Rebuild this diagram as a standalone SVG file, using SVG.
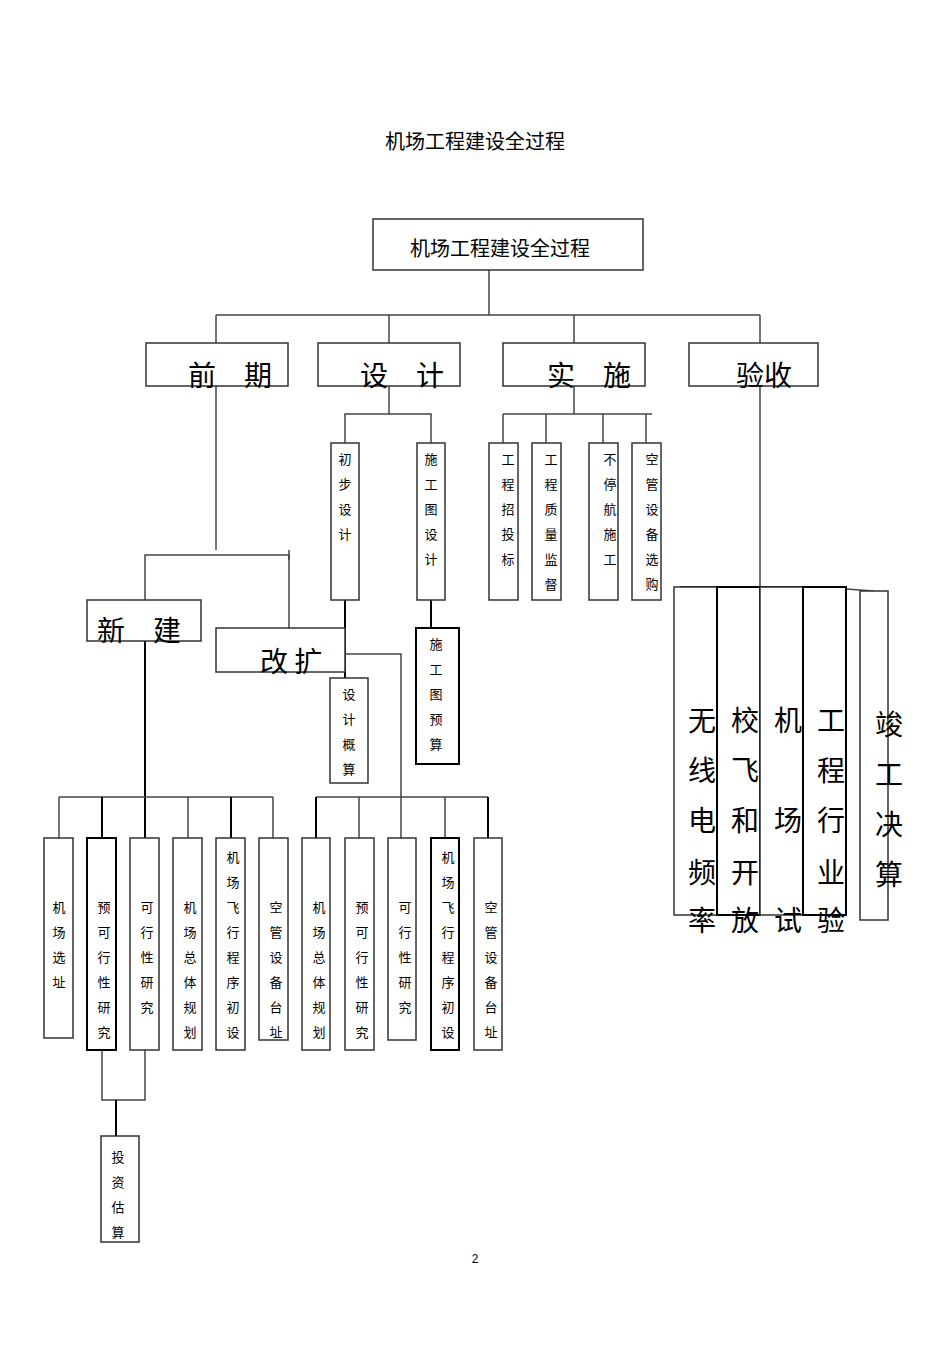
<svg xmlns="http://www.w3.org/2000/svg" width="950" height="1345" viewBox="0 0 950 1345">
<style>
text{font-family:"Noto Sans CJK SC","Liberation Sans",sans-serif;fill:#000}
.t{font-size:13px;text-anchor:middle}
.b{font-size:28px}
rect{fill:#fff;stroke:#333;stroke-width:1.5}
.k{stroke:#000;stroke-width:2}
line,polyline{stroke:#444;stroke-width:1.5;fill:none}
.bl{stroke:#000;stroke-width:2}
</style>
<rect x="0" y="0" width="950" height="1345" style="stroke:none"/>
<text x="475" y="149" style="font-size:20px;text-anchor:middle">机场工程建设全过程</text>
<g id="connectors">
<line x1="489" y1="270" x2="489" y2="315"/>
<line x1="216" y1="315" x2="760" y2="315"/>
<line x1="216" y1="315" x2="216" y2="343"/><line x1="389" y1="315" x2="389" y2="343"/><line x1="574" y1="315" x2="574" y2="343"/><line x1="760" y1="315" x2="760" y2="343"/>
<line x1="216" y1="386" x2="216" y2="550"/>
<polyline points="145,600 145,555 289,555 289,628"/>
<line x1="289" y1="550" x2="289" y2="560"/>
<line x1="389" y1="386" x2="389" y2="414"/>
<polyline points="345,443 345,414 431,414 431,443"/>
<line class="bl" x1="431" y1="600" x2="431" y2="628"/>
<line class="bl" x1="345" y1="600" x2="345" y2="678"/>
<polyline points="345,654 401,654 401,838"/>
<line x1="574" y1="386" x2="574" y2="414"/>
<line x1="503" y1="414" x2="652" y2="414"/>
<line x1="503" y1="414" x2="503" y2="443"/><line x1="546" y1="414" x2="546" y2="443"/><line x1="603" y1="414" x2="603" y2="443"/><line x1="646" y1="414" x2="646" y2="443"/>
<line x1="760" y1="386" x2="760" y2="587"/>
<line class="bl" x1="680" y1="587" x2="818" y2="587"/>
<line x1="818" y1="587" x2="874" y2="591"/>
<line class="bl" x1="145" y1="641" x2="145" y2="838"/>
<line x1="59" y1="797" x2="273" y2="797"/>
<line x1="59" y1="797" x2="59" y2="838"/><line class="bl" x1="102" y1="797" x2="102" y2="838"/><line x1="188" y1="797" x2="188" y2="838"/><line class="bl" x1="231" y1="797" x2="231" y2="838"/><line x1="273" y1="797" x2="273" y2="838"/>
<line x1="316" y1="797" x2="488" y2="797"/>
<line class="bl" x1="316" y1="797" x2="316" y2="838"/><line x1="359" y1="797" x2="359" y2="838"/><line x1="445" y1="797" x2="445" y2="838"/><line class="bl" x1="488" y1="797" x2="488" y2="838"/>
<polyline points="102,1050 102,1100 145,1100 145,1050"/>
<line class="bl" x1="116" y1="1100" x2="116" y2="1136"/>
</g>
<g id="root"><rect x="373" y="219" width="270" height="51"/><text x="500" y="256" style="font-size:20px;text-anchor:middle">机场工程建设全过程</text></g>
<g id="qianqi"><rect x="146" y="343" width="142" height="43"/><text class="b" x="188" y="386">前　期</text></g>
<g id="sheji"><rect x="318" y="343" width="142" height="43"/><text class="b" x="360" y="386">设　计</text></g>
<g id="shishi"><rect x="503" y="343" width="142" height="43"/><text class="b" x="547" y="386">实　施</text></g>
<g id="yanshou"><rect x="689" y="343" width="129" height="43"/><text class="b" x="736" y="386">验收</text></g>

<g id="chubu"><rect x="331" y="443" width="28" height="157"/><text class="t" x="345" y="464">初</text><text class="t" x="345" y="489">步</text><text class="t" x="345" y="514">设</text><text class="t" x="345" y="539">计</text></g>
<g id="sgtsj"><rect x="417" y="443" width="28" height="157"/><text class="t" x="431" y="464">施</text><text class="t" x="431" y="489">工</text><text class="t" x="431" y="514">图</text><text class="t" x="431" y="539">设</text><text class="t" x="431" y="564">计</text></g>
<g id="sgtys"><rect class="k" x="416" y="628" width="43" height="136"/><text class="t" x="436" y="649">施</text><text class="t" x="436" y="674">工</text><text class="t" x="436" y="699">图</text><text class="t" x="436" y="724">预</text><text class="t" x="436" y="749">算</text></g>
<g id="sjgs"><rect x="330" y="678" width="38" height="105"/><text class="t" x="349" y="699">设</text><text class="t" x="349" y="724">计</text><text class="t" x="349" y="749">概</text><text class="t" x="349" y="774">算</text></g>

<g id="s1"><rect x="489" y="443" width="29" height="157"/><text class="t" x="508" y="464">工</text><text class="t" x="508" y="489">程</text><text class="t" x="508" y="514">招</text><text class="t" x="508" y="539">投</text><text class="t" x="508" y="564">标</text></g>
<g id="s2"><rect x="532" y="443" width="29" height="157"/><text class="t" x="551" y="464">工</text><text class="t" x="551" y="489">程</text><text class="t" x="551" y="514">质</text><text class="t" x="551" y="539">量</text><text class="t" x="551" y="564">监</text><text class="t" x="551" y="589">督</text></g>
<g id="s3"><rect x="589" y="443" width="29" height="157"/><text class="t" x="610" y="464">不</text><text class="t" x="610" y="489">停</text><text class="t" x="610" y="514">航</text><text class="t" x="610" y="539">施</text><text class="t" x="610" y="564">工</text></g>
<g id="s4"><rect x="632" y="443" width="29" height="157"/><text class="t" x="652" y="464">空</text><text class="t" x="652" y="489">管</text><text class="t" x="652" y="514">设</text><text class="t" x="652" y="539">备</text><text class="t" x="652" y="564">选</text><text class="t" x="652" y="589">购</text></g>

<g id="v1"><rect x="674" y="587" width="43" height="328"/></g>
<g id="v2"><rect class="k" x="717" y="587" width="43" height="328"/></g>
<g id="v3"><rect x="760" y="587" width="43" height="328"/></g>
<g id="v4"><rect class="k" x="803" y="587" width="43" height="328"/></g>
<g id="v5"><rect x="860" y="591" width="28" height="329"/></g>
<g id="vtext" class="b">
<text x="688" y="731">无</text><text x="688" y="781">线</text><text x="688" y="831">电</text><text x="688" y="883">频</text><text x="688" y="931">率</text>
<text x="731" y="731">校</text><text x="731" y="781">飞</text><text x="731" y="831">和</text><text x="731" y="883">开</text><text x="731" y="931">放</text>
<text x="774" y="731">机</text><text x="774" y="831">场</text><text x="774" y="931">试</text>
<text x="817" y="731">工</text><text x="817" y="781">程</text><text x="817" y="831">行</text><text x="817" y="883">业</text><text x="817" y="931">验</text>
<text x="875" y="735">竣</text><text x="875" y="785">工</text><text x="875" y="835">决</text><text x="875" y="885">算</text>
</g>

<g id="xinjian"><rect x="87" y="600" width="114" height="41"/><text class="b" x="97" y="641">新　建</text></g>
<g id="gaikuo"><rect x="216" y="628" width="129" height="44"/><text class="b" x="260" y="672">改 扩</text></g>

<g id="a1"><rect x="44" y="838" width="29" height="200"/><text class="t" x="59" y="912">机</text><text class="t" x="59" y="937">场</text><text class="t" x="59" y="962">选</text><text class="t" x="59" y="987">址</text></g>
<g id="a2"><rect class="k" x="87" y="838" width="29" height="212"/><text class="t" x="104" y="912">预</text><text class="t" x="104" y="937">可</text><text class="t" x="104" y="962">行</text><text class="t" x="104" y="987">性</text><text class="t" x="104" y="1012">研</text><text class="t" x="104" y="1037">究</text></g>
<g id="a3"><rect x="130" y="838" width="29" height="212"/><text class="t" x="147" y="912">可</text><text class="t" x="147" y="937">行</text><text class="t" x="147" y="962">性</text><text class="t" x="147" y="987">研</text><text class="t" x="147" y="1012">究</text></g>
<g id="a4"><rect x="173" y="838" width="29" height="212"/><text class="t" x="190" y="912">机</text><text class="t" x="190" y="937">场</text><text class="t" x="190" y="962">总</text><text class="t" x="190" y="987">体</text><text class="t" x="190" y="1012">规</text><text class="t" x="190" y="1037">划</text></g>
<g id="a5"><rect x="216" y="838" width="29" height="212"/><text class="t" x="233" y="862">机</text><text class="t" x="233" y="887">场</text><text class="t" x="233" y="912">飞</text><text class="t" x="233" y="937">行</text><text class="t" x="233" y="962">程</text><text class="t" x="233" y="987">序</text><text class="t" x="233" y="1012">初</text><text class="t" x="233" y="1037">设</text></g>
<g id="a6"><rect x="259" y="838" width="29" height="202"/><text class="t" x="276" y="912">空</text><text class="t" x="276" y="937">管</text><text class="t" x="276" y="962">设</text><text class="t" x="276" y="987">备</text><text class="t" x="276" y="1012">台</text><text class="t" x="276" y="1037">址</text></g>
<g id="tzgs"><rect x="101" y="1136" width="38" height="106"/><text class="t" x="118" y="1162">投</text><text class="t" x="118" y="1187">资</text><text class="t" x="118" y="1212">估</text><text class="t" x="118" y="1237">算</text></g>

<g id="b1"><rect x="302" y="838" width="28" height="212"/><text class="t" x="319" y="912">机</text><text class="t" x="319" y="937">场</text><text class="t" x="319" y="962">总</text><text class="t" x="319" y="987">体</text><text class="t" x="319" y="1012">规</text><text class="t" x="319" y="1037">划</text></g>
<g id="b2"><rect x="345" y="838" width="29" height="212"/><text class="t" x="362" y="912">预</text><text class="t" x="362" y="937">可</text><text class="t" x="362" y="962">行</text><text class="t" x="362" y="987">性</text><text class="t" x="362" y="1012">研</text><text class="t" x="362" y="1037">究</text></g>
<g id="b3"><rect x="388" y="838" width="28" height="202"/><text class="t" x="405" y="912">可</text><text class="t" x="405" y="937">行</text><text class="t" x="405" y="962">性</text><text class="t" x="405" y="987">研</text><text class="t" x="405" y="1012">究</text></g>
<g id="b4"><rect class="k" x="431" y="838" width="28" height="212"/><text class="t" x="448" y="862">机</text><text class="t" x="448" y="887">场</text><text class="t" x="448" y="912">飞</text><text class="t" x="448" y="937">行</text><text class="t" x="448" y="962">程</text><text class="t" x="448" y="987">序</text><text class="t" x="448" y="1012">初</text><text class="t" x="448" y="1037">设</text></g>
<g id="b5"><rect x="474" y="838" width="28" height="212"/><text class="t" x="491" y="912">空</text><text class="t" x="491" y="937">管</text><text class="t" x="491" y="962">设</text><text class="t" x="491" y="987">备</text><text class="t" x="491" y="1012">台</text><text class="t" x="491" y="1037">址</text></g>

<text x="475" y="1263" style="font-size:12px;text-anchor:middle;font-family:'Liberation Sans',sans-serif">2</text>
</svg>
